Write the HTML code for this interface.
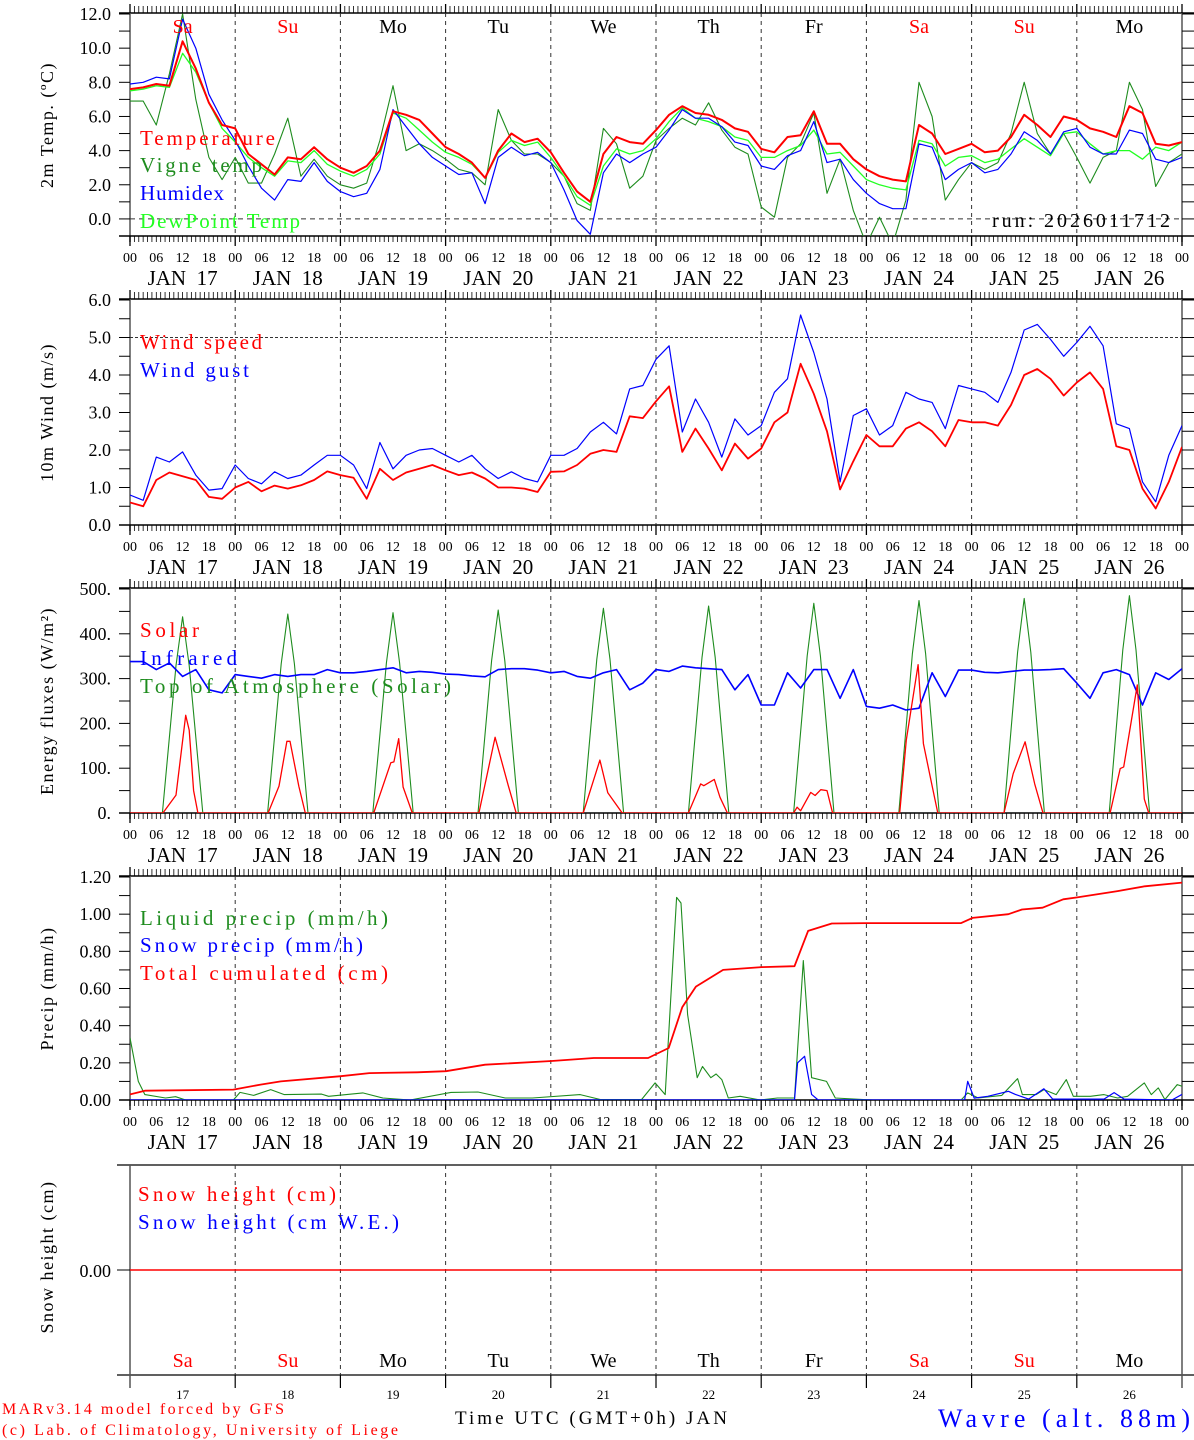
<!DOCTYPE html>
<html><head><meta charset="utf-8"><style>
html,body{margin:0;padding:0;background:#fff;}
svg{display:block;font-family:"Liberation Serif","DejaVu Serif",serif;}
</style></head><body>
<svg id="chart" width="1194" height="1440" viewBox="0 0 1194 1440" xmlns="http://www.w3.org/2000/svg"></svg>
<script>
// ===== data =====
const dayNums=["17","18","19","20","21","22","23","24","25","26"];
const dayNames=["Sa","Su","Mo","Tu","We","Th","Fr","Sa","Su","Mo"];
const weekend=[true,true,false,false,false,false,false,true,true,false];
const hourTicks=["00","06","12","18"];
// 3-hourly series (hours 0..240)
const tempVals=[7.6,7.7,7.9,7.8,10.4,8.8,6.8,5.5, 5.3,3.8,3.2,2.6,3.6,3.5,4.2,3.5, 3.0,2.7,3.1,4.0,6.3,6.1,5.8,5.0, 4.2,3.8,3.3,2.4,4.0,5.0,4.5,4.7, 3.9,2.7,1.6,1.0,3.8,4.8,4.5,4.4, 5.2,6.1,6.6,6.2,6.1,5.8,5.3,5.1, 4.1,3.9,4.8,4.9,6.3,4.4,4.4,3.5, 2.9,2.5,2.3,2.2,5.5,5.0,3.8,4.1, 4.4,3.9,4.0,4.8,6.1,5.5,4.8,6.0, 5.8,5.3,5.1,4.8,6.6,6.2,4.4,4.3,4.5];
const vigneVals=[6.9,6.9,5.5,8.5,12.0,7.0,3.6,2.3, 3.6,2.1,2.1,3.8,5.9,2.5,3.5,2.5, 2.0,1.8,2.1,4.6,7.8,4.0,4.4,4.0, 3.5,2.9,2.7,2.0,6.4,4.6,3.8,3.8, 3.3,2.5,0.9,0.5,5.3,4.4,1.8,2.5, 4.6,5.3,5.9,5.5,6.8,5.2,4.2,3.8, 0.7,0.1,3.6,4.4,6.2,1.5,3.5,0.5, -1.5,0.1,-1.5,1.1,8.0,6.0,1.1,2.3, 3.3,2.9,3.3,5.0,8.0,5.0,3.8,5.0, 3.6,2.1,3.6,4.0,8.0,6.4,1.9,3.3,3.8];
const humidexVals=[7.9,8.0,8.3,8.2,11.7,10.0,7.3,5.8, 4.6,3.1,1.8,1.1,2.3,2.2,3.3,2.2, 1.6,1.3,1.5,2.9,6.4,5.4,4.4,3.6, 3.1,2.6,2.7,0.9,3.6,4.2,3.7,3.9, 3.3,1.7,-0.1,-0.9,2.7,3.8,3.3,3.8, 4.2,5.2,6.4,5.9,5.9,5.4,4.5,4.3, 3.1,2.9,3.7,4.0,5.7,3.3,3.5,2.3, 1.5,0.9,0.6,0.6,4.4,4.2,2.3,2.9, 3.3,2.7,2.9,3.8,5.1,4.6,3.8,5.1, 5.3,4.2,3.8,3.8,5.2,5.0,3.5,3.3,3.6];
const dewVals=[7.5,7.6,7.8,7.7,9.7,8.6,6.8,5.3, 4.5,3.6,3.0,2.5,3.4,3.3,4.0,3.2, 2.8,2.5,2.9,3.8,6.2,5.9,5.2,4.5, 3.9,3.6,3.2,2.4,3.9,4.6,4.3,4.5, 3.6,2.5,1.3,0.8,3.1,4.1,3.8,4.0, 4.7,5.7,6.5,5.9,5.7,5.4,4.8,4.6, 3.6,3.6,4.0,4.3,5.2,3.8,3.9,3.1, 2.3,2.0,1.8,1.7,4.6,4.4,3.1,3.6, 3.7,3.3,3.5,4.1,4.7,4.2,3.7,5.0, 5.1,4.4,3.8,4.0,4.0,3.5,4.2,4.0,4.5];
const windVals=[0.6,0.5,1.2,1.4,1.3,1.2,0.75,0.7, 1.0,1.15,0.9,1.05,0.97,1.06,1.2,1.43, 1.33,1.26,0.7,1.5,1.2,1.4,1.5,1.6, 1.46,1.33,1.4,1.24,1.0,1.0,0.97,0.88, 1.42,1.43,1.6,1.9,2.0,1.95,2.9,2.85, 3.3,3.7,1.95,2.57,2.04,1.46,2.17,1.77, 2.04,2.74,3.0,4.3,3.5,2.5,0.95,1.7, 2.4,2.1,2.1,2.57,2.74,2.5,2.1,2.8, 2.74,2.74,2.65,3.2,4.0,4.16,3.9,3.45, 3.8,4.07,3.63,2.1,2.0,0.97,0.44,1.15,2.08];
const gustVals=[0.8,0.66,1.81,1.68,1.95,1.33,0.93,0.97, 1.6,1.24,1.1,1.42,1.24,1.33,1.6,1.86, 1.86,1.6,0.97,2.2,1.5,1.86,2.0,2.04, 1.86,1.68,1.86,1.5,1.24,1.42,1.24,1.15, 1.86,1.86,2.04,2.48,2.74,2.43,3.63,3.72, 4.42,4.78,2.48,3.36,2.74,1.81,2.83,2.4, 2.65,3.54,3.9,5.6,4.6,3.36,1.15,2.92, 3.1,2.4,2.65,3.54,3.36,3.27,2.57,3.72, 3.63,3.54,3.27,4.07,5.2,5.35,4.95,4.5, 4.87,5.3,4.78,2.7,2.57,1.15,0.62,1.86,2.65];
const irVals=[338,338,320,335,305,320,275,268, 309,305,301,309,305,309,309,320, 313,313,316,320,324,313,316,314, 310,309,306,304,320,322,322,319, 313,316,305,301,313,320,275,290, 320,316,328,324,322,320,275,309, 241,241,313,279,320,320,256,320, 238,234,241,230,234,313,260,319, 319,314,313,316,319,319,320,322, 290,256,313,320,309,241,313,298,322];
// irregular-time series
const solarHours=[0,7.5,10.5,12.7,13.5,14.5,15.5, 31.5,34,35.8,36.5,38.5,40, 55.6,59.5,60.2,61.3,62.3,64.4, 79.6,83.3,86.3,88.1, 103.4,107.2,109,112.3, 127.4,130.2,130.9,133.3,134.6,136.3, 151.4,152.2,153,155.3,156.3,157.6,159,160.3, 175.6,177.1,179.8,181,182.9,184.3, 199.4,201.5,204.2,206.4,208.3, 223.6,225.9,226.7,229.8,231.4,232.4,240];
const solarVals=[0,0,40,218,185,50,0, 0,60,160,160,60,0, 0,112,114,166,58,0, 0,169,61,0, 0,118,45,0, 0,65,61,75,35,0, 0,13,5,46,39,52,50,0, 0,163,331,155,65,0, 0,88,159,65,0, 0,99,103,286,31,0,0];
const toaHours=[0,7.4,10.5,12,13.5,16.6, 31.4,34.5,36,37.5,40.6, 55.4,58.5,60,61.5,64.6, 79.4,82.5,84,85.5,88.6, 103.4,106.5,108,109.5,112.6, 127.4,130.5,132,133.5,136.6, 151.4,154.5,156,157.5,160.6, 175.4,178.5,180,181.5,184.6, 199.4,202.5,204,205.5,208.6, 223.4,226.5,228,229.5,232.6,240];
const toaVals=[0,0,329,438,329,0, 0,333,444,333,0, 0,335,447,335,0, 0,340,453,340,0, 0,343,457,343,0, 0,347,462,347,0, 0,351,468,351,0, 0,356,474,356,0, 0,359,479,359,0, 0,364,485,364,0,0];
const liqHours=[0,1.9,3.4,8.1,10.4,12.7,23.6,25.1,28.2,32.1,35.2,43.7,45.3,53.1,57.7,63.9,73.2,79.4,85.6,91.8,102.7,107.4,116.7,119.8,122.1,124.7,125.7,127.2,129.4,130.6,132.5,133.7,135.0,136.5,139.2,143.8,147.7,151.6,153.6,155.5,158.9,160.9,169.4,189.6,191.1,193.5,198.9,202.5,203.6,206.7,208.5,211.3,213.6,215.2,219.1,222.2,225.3,227.6,231.4,233.0,234.6,236.1,238.9,240];
const liqVals=[0.334,0.10,0.029,0.011,0.018,0,0,0.041,0.025,0.056,0.029,0.032,0.02,0.038,0.011,0,0.041,0.043,0.011,0.011,0.029,0.002,0.002,0.092,0.029,1.09,1.06,0.46,0.12,0.18,0.12,0.14,0.11,0.011,0.02,0,0.011,0.011,0.75,0.12,0.10,0.011,0,0,0.038,0.011,0.025,0.115,0.029,0.029,0.056,0.029,0.11,0.02,0.02,0.029,0.011,0.02,0.092,0.029,0.065,0.002,0.083,0.074];
const snowPHours=[0,151.6,152.3,153.9,155.5,157,190.4,191.1,192.6,195.7,200.4,202,205,208.5,210.5,222.2,224.5,226.8,237.7,240];
const snowPVals=[0,0,0.2,0.235,0.03,0,0,0.10,0.01,0.02,0.047,0.03,0.005,0.06,0.005,0.005,0.04,0.005,0,0.03];
const cumHours=[0,3.4,23.6,29.8,34.4,48.1,54.6,65.5,72.1,81.0,96.2,105.8,118.2,122.9,126.0,129.1,135.3,144.1,151.6,154.7,160.1,168.0,189.6,192.2,200.4,203.5,208.2,212.9,216.1,225.3,231.5,240];
const cumVals=[0.03,0.05,0.056,0.083,0.10,0.128,0.145,0.149,0.155,0.19,0.21,0.226,0.226,0.28,0.5,0.61,0.70,0.715,0.72,0.91,0.95,0.952,0.952,0.98,1.0,1.025,1.035,1.08,1.09,1.124,1.15,1.17];
const snowHVals=[0,0];
const snowHHours=[0,240];

// ===== drawing =====
const NS="http://www.w3.org/2000/svg";
const svg=document.getElementById('chart');
const X0=130,X1=1182;
function xs(h){return X0+(X1-X0)*h/240;}
function mk(tag,attrs,parent){const e=document.createElementNS(NS,tag);for(const k in attrs)e.setAttribute(k,attrs[k]);(parent||svg).appendChild(e);return e;}
function txt(s,x,y,size,fill,anchor,parent){const t=mk('text',{x:x,y:y,'font-size':size,fill:fill||'#000','text-anchor':anchor||'start'},parent);t.textContent=s;return t;}
function ln(x1,y1,x2,y2,stroke,w,dash,parent){return mk('line',{x1:x1,y1:y1,x2:x2,y2:y2,stroke:stroke||'#000','stroke-width':w||1,'stroke-dasharray':dash||'none'},parent);}

const panels=[
 {id:'temp',top:14,bot:236,vmin:-1,vmax:12,tickStep:1,labStep:2,fmt:v=>v.toFixed(1),title:'2m Temp. (ºC)',refLine:0,refDash:'5,4'},
 {id:'wind',top:300,bot:525,vmin:0,vmax:6,tickStep:0.5,labStep:1,fmt:v=>v.toFixed(1),title:'10m Wind (m/s)',refLine:5,refDash:'3,2'},
 {id:'flux',top:589,bot:813,vmin:0,vmax:500,tickStep:50,labStep:100,fmt:v=>v.toFixed(0)+'.',title:'Energy fluxes (W/m²)'},
 {id:'precip',top:877,bot:1100,vmin:0,vmax:1.2,tickStep:0.1,labStep:0.2,fmt:v=>v.toFixed(2),title:'Precip (mm/h)'}
];
function yScale(p){return v=>p.bot-(v-p.vmin)/(p.vmax-p.vmin)*(p.bot-p.top);}

panels.forEach((p,pi)=>{
  const g=mk('g',{});
  
  
  const ys=yScale(p);
  p.ys=ys;
  const frameTop=p.top-1;
  ln(119,frameTop,X1+12,frameTop,'#000',1.5,null,g);
  ln(X0,frameTop,X0,p.bot+6,'#555',1.5,null,g);
  ln(X1,frameTop,X1,p.bot+6,'#555',1.5,null,g);
  ln(119,p.bot,X1+12,p.bot,'#000',1.5,null,g);
  for(let h=0;h<=240;h++){
    const x=xs(h);
    const big=h%24===0;
    ln(x,frameTop,x,frameTop-(big?9:7),'#000',big?1.3:0.8,null,g);
    ln(x,p.bot,x,p.bot+(big?10:6),'#000',big?1.3:0.8,null,g);
  }
  for(let d=1;d<10;d++){ln(xs(d*24),frameTop,xs(d*24),p.bot,'#333',1,'4,4',g);}
  const nT=Math.round((p.vmax-p.vmin)/p.tickStep);
  for(let i=0;i<=nT;i++){
    const v=p.vmin+i*p.tickStep;const y=ys(v);
    ln(119,y,X0,y,'#000',1,null,g);
    ln(X1,y,X1+12,y,'#000',1,null,g);
  }
  const nL=Math.round(p.vmax/p.labStep);
  for(let i=0;i<=nL;i++){
    const v=i*p.labStep;if(v<p.vmin)continue;
    const t=txt(p.fmt(v),111,ys(v)+6,18,'#000','end',g);
    
    
  }
  const ty=txt(p.title,0,0,18,'#000','middle',g);
  ty.setAttribute('transform','translate(53,'+((p.top+p.bot)/2)+') rotate(-90)');
  
  
  ty.setAttribute('letter-spacing','1.5');
  if(p.refLine!==undefined){ln(X0,ys(p.refLine),X1,ys(p.refLine),'#333',1,p.refDash,g);}
  for(let d=0;d<10;d++){
    for(let k=0;k<4;k++){
      const t=txt(hourTicks[k],xs(d*24+k*6),p.bot+26,14,'#000','middle',g);
      
      
    }
    const dl=txt('JAN  '+dayNums[d],xs(d*24+12),p.bot+49,21,'#000','middle',g);
    
    
    dl.style.whiteSpace='pre';
  }
  txt(hourTicks[0],xs(240),p.bot+26,14,'#000','middle',g);
  const cp=mk('clipPath',{id:'clip'+pi},g);
  mk('rect',{x:X0,y:p.top-1,width:X1-X0,height:p.bot-p.top+1},cp);
});

function series3h(vals,p,color,w,name){
  const pts=vals.map((v,i)=>xs(i*3).toFixed(1)+','+p.ys(v).toFixed(1)).join(' ');
  const e=mk('polyline',{points:pts,fill:'none',stroke:color,'stroke-width':w,'stroke-linejoin':'round','clip-path':'url(#clip'+panels.indexOf(p)+')'});
  
  
}
function seriesT(hours,vals,p,color,w,name){
  const pts=vals.map((v,i)=>xs(hours[i]).toFixed(1)+','+p.ys(v).toFixed(1)).join(' ');
  const e=mk('polyline',{points:pts,fill:'none',stroke:color,'stroke-width':w,'stroke-linejoin':'round','clip-path':'url(#clip'+panels.indexOf(p)+')'});
  
  
}
const RED='#ff0000',DG='#1e8c1e',BL='#0000ff',LG='#22ff22';
series3h(vigneVals,panels[0],DG,1.1,'vigne-temp-line');
series3h(dewVals,panels[0],LG,1.3,'dewpoint-line');
series3h(humidexVals,panels[0],BL,1.2,'humidex-line');
series3h(tempVals,panels[0],RED,2,'temperature-line');
series3h(gustVals,panels[1],BL,1.2,'wind-gust-line');
series3h(windVals,panels[1],RED,1.8,'wind-speed-line');
seriesT(toaHours,toaVals,panels[2],DG,1.1,'toa-solar-line');
series3h(irVals,panels[2],BL,1.6,'infrared-line');
seriesT(solarHours,solarVals,panels[2],RED,1.3,'solar-line');
seriesT(liqHours,liqVals,panels[3],DG,1.1,'liquid-precip-line');
seriesT(snowPHours,snowPVals,panels[3],BL,1.2,'snow-precip-line');
seriesT(cumHours,cumVals,panels[3],RED,1.8,'cumulated-precip-line');

function legend(s,x,y,color,name){
  const t=txt(s,x,y,21,color,'start');
  t.setAttribute('textLength',(s.length*12.6-4).toFixed(0));
  t.setAttribute('lengthAdjust','spacing');
  
  
}
legend('Temperature',140,145,RED,'legend-temperature');
legend('Vigne temp',140,172,DG,'legend-vigne-temp');
legend('Humidex',140,200,BL,'legend-humidex');
legend('DewPoint Temp',140,228,LG,'legend-dewpoint');
legend('Wind speed',140,349,RED,'legend-wind-speed');
legend('Wind gust',140,377,BL,'legend-wind-gust');
legend('Solar',140,637,RED,'legend-solar');
legend('Infrared',140,665,BL,'legend-infrared');
legend('Top of Atmosphere (Solar)',140,693,DG,'legend-toa');
legend('Liquid precip (mm/h)',140,925,DG,'legend-liquid-precip');
legend('Snow precip (mm/h)',140,952,BL,'legend-snow-precip');
legend('Total cumulated (cm)',140,980,RED,'legend-total-cumulated');
legend('Snow height (cm)',138,1201,RED,'legend-snow-height');
legend('Snow height (cm W.E.)',138,1229,BL,'legend-snow-height-we');

for(let d=0;d<10;d++){
  const t=txt(dayNames[d],xs(d*24+12),33,20,weekend[d]?RED:'#000','middle');
  
  
}
const run=txt('run: 2026011712',1170,227,20,'#000','end');
run.setAttribute('textLength','178');



const p5={top:1165,bot:1375,vmin:-1,vmax:1};
p5.ys=v=>1270-v*100;
const g5=mk('g',{});


ln(117,1165,1194,1165,'#000',1.3,null,g5);
ln(117,1375,1194,1375,'#000',1.3,null,g5);
ln(X0,1165,X0,1388,'#555',1.5,null,g5);
ln(X1,1165,X1,1388,'#555',1.5,null,g5);
ln(117,1270,X0,1270,'#000',1,null,g5);
for(let d=1;d<10;d++){ln(xs(d*24),1165,xs(d*24),1375,'#333',1,'4,4',g5);ln(xs(d*24),1375,xs(d*24),1388,'#000',1.2,null,g5);}
txt('0.00',111,1277,18,'#000','end',g5);
const t5=txt('Snow height (cm)',0,0,18,'#000','middle',g5);
t5.setAttribute('transform','translate(53,1257) rotate(-90)');
t5.setAttribute('letter-spacing','1.5');


const sh=mk('polyline',{points:snowHHours.map((h,i)=>xs(h)+','+p5.ys(snowHVals[i])).join(' '),fill:'none',stroke:RED,'stroke-width':1.5});


for(let d=0;d<10;d++){
  const t=txt(dayNames[d],xs(d*24+12),1367,20,weekend[d]?RED:'#000','middle');
  
  
  const n=txt(dayNums[d],xs(d*24+12),1399,13,'#000','middle');
  
  
}
const xt=txt('Time UTC (GMT+0h) JAN',591,1424,19,'#000','middle');
xt.setAttribute('textLength','272');


const c1=txt('MARv3.14 model forced by GFS',2,1414,16,RED,'start');
c1.setAttribute('textLength','282');


const c2=txt('(c) Lab. of Climatology, University of Liege',2,1435,16,RED,'start');
c2.setAttribute('textLength','396');


const st=txt('Wavre (alt. 88m)',1190,1427,26,BL,'end');
st.setAttribute('textLength','252');


</script>
</body></html>
